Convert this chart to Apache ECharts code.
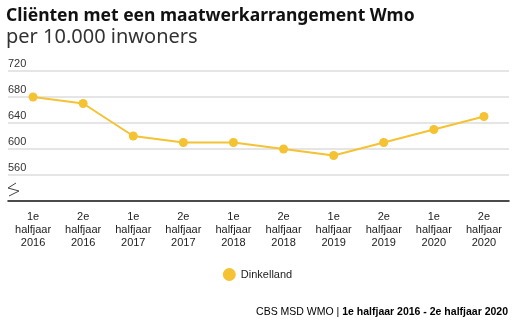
<!DOCTYPE html>
<html>
<head>
<meta charset="utf-8">
<script src="https://cdn.jsdelivr.net/npm/echarts@6/dist/echarts.min.js"></script>
<style>
html,body{margin:0;padding:0;background:#fff;}
#chart{width:515px;height:330px;}
</style>
</head>
<body>
<div id="chart"></div>
<script>
// Halfjaren en aantallen cliënten per 10.000 inwoners
const categories = [
  '1e\nhalfjaar\n2016', '2e\nhalfjaar\n2016',
  '1e\nhalfjaar\n2017', '2e\nhalfjaar\n2017',
  '1e\nhalfjaar\n2018', '2e\nhalfjaar\n2018',
  '1e\nhalfjaar\n2019', '2e\nhalfjaar\n2019',
  '1e\nhalfjaar\n2020', '2e\nhalfjaar\n2020'
];
const dinkelland = [680, 670, 620, 610, 610, 600, 590, 610, 630, 650];
const yTicks = [560, 600, 640, 680, 720];
const seriesName = 'Dinkelland';

const chart = echarts.init(document.getElementById('chart'), null, {renderer: 'canvas'});
const yellow = '#f4c233';

chart.setOption({
  animation: false,
  textStyle: {fontFamily: 'Liberation Sans'},
  title: [
    {
      text: 'Cliënten met een maatwerkarrangement Wmo',
      left: 1, top: 2,
      textStyle: {fontFamily: 'Noto Sans', fontWeight: 'bold', fontSize: 17.5, color: '#111'}
    },
    {
      text: 'per 10.000 inwoners',
      left: 1, top: 22,
      textStyle: {fontFamily: 'Noto Sans', fontWeight: 'normal', fontSize: 20, color: '#333'}
    }
  ],
  legend: {
    data: [seriesName],
    bottom: 44,
    left: 'center',
    icon: 'circle',
    itemWidth: 13, itemHeight: 13,
    textStyle: {fontFamily: 'Liberation Sans', fontSize: 11, color: '#222'}
  },
  grid: {left: 8, right: 6, top: 71, bottom: 129, containLabel: false},
  xAxis: {
    type: 'category',
    data: categories,
    boundaryGap: true,
    axisLine: {show: true, lineStyle: {color: '#111', width: 1.5}},
    axisTick: {show: false},
    axisLabel: {
      interval: 0, margin: 9,
      fontFamily: 'Liberation Sans', fontSize: 11, lineHeight: 13, color: '#222'
    }
  },
  yAxis: {
    type: 'value',
    min: 520, max: 720, interval: 40,
    axisLine: {show: false},
    axisTick: {show: false},
    splitLine: {
      show: true,
      lineStyle: {color: '#dcdcdc', width: 1.5},
      showMinLine: false
    },
    axisLabel: {
      inside: true,
      margin: 0,
      verticalAlign: 'bottom',
      padding: [0, 0, 2, 0],
      fontFamily: 'Liberation Sans', fontSize: 11, color: '#333',
      formatter: v => yTicks.includes(v) ? String(v) : ''
    }
  },
  series: [{
    name: seriesName,
    type: 'line',
    data: dinkelland,
    symbol: 'circle',
    symbolSize: 9,
    lineStyle: {color: yellow, width: 2},
    itemStyle: {color: yellow},
    z: 5
  }],
  graphic: [
    {
      type: 'polyline',
      shape: {points: [[16, 183], [8, 188], [19, 191], [9, 196]]},
      style: {stroke: '#444', lineWidth: 1, fill: null}
    },
    {
      type: 'text',
      right: 7, top: 307,
      style: {
        text: '{n|CBS MSD WMO | }{b|1e halfjaar 2016 - 2e halfjaar 2020}',
        rich: {
          n: {fontFamily: 'Liberation Sans', fontSize: 10.5, color: '#111'},
          b: {fontFamily: 'Liberation Sans', fontSize: 10.5, fontWeight: 'bold', color: '#111'}
        }
      }
    }
  ]
});
</script>
</body>
</html>
